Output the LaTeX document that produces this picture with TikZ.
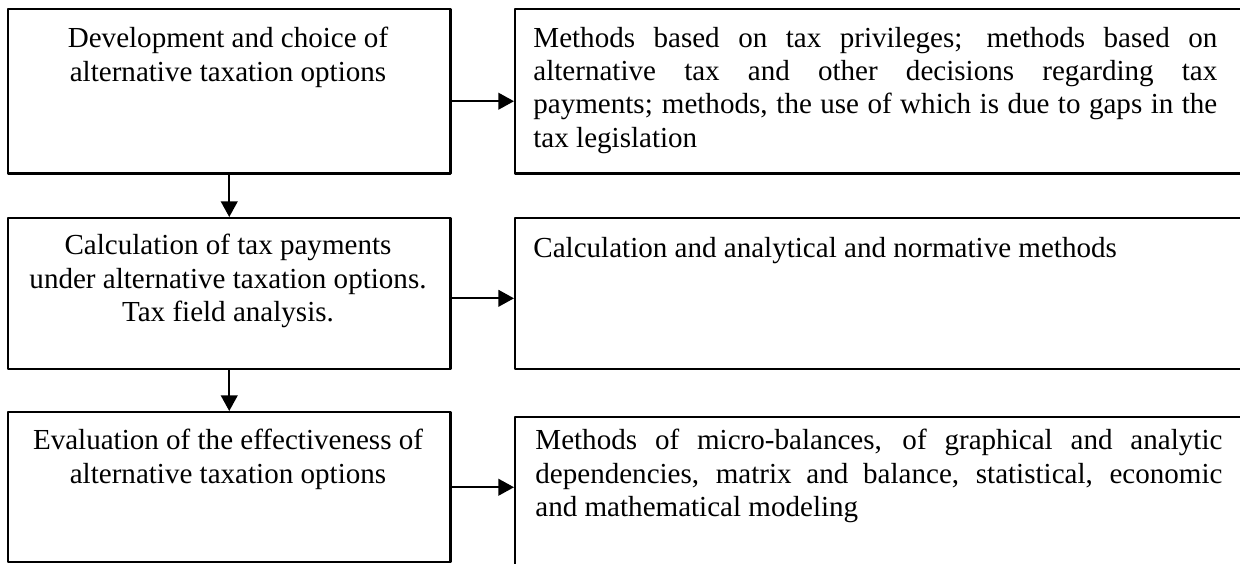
\documentclass[tikz,border=0pt]{standalone}
\usepackage{fontspec}
\setmainfont{Liberation Serif}
\usetikzlibrary{arrows.meta}
\newcommand{\px}{0.4818pt}
\begin{document}
\begin{tikzpicture}[x=\px, y=-\px, line join=round, >={Triangle[length=7.5pt,width=8pt]},
        font=\fontsize{14}{16}\selectfont,
        box/.style={draw, line width=1.2pt, inner sep=0pt, anchor=north west},
        midtxt/.style={anchor=north, align=center, inner sep=0pt},
        sidetxt/.style={anchor=north west, align=justify, text width=329.5pt, inner sep=0pt}]
            \useasboundingbox (0,0) rectangle (1240,563);
            \clip (0,0) rectangle (1240,563);
            \node[box, minimum width=212.96pt, minimum height=79.02pt] (devbox) at (7,8) {};
            \node[box, minimum width=212.96pt, minimum height=72.75pt] (calcbox) at (7,217) {};
            \node[box, minimum width=212.96pt, minimum height=72.27pt] (evalbox) at (7,411) {};
            \node[box, minimum width=352.2pt, minimum height=79.02pt] (privbox) at (514,8) {};
            \node[box, minimum width=352.2pt, minimum height=72.75pt] (normbox) at (514,217) {};
            \node[box, minimum width=352.2pt, minimum height=76.6pt] (modbox) at (514,416) {};
            \node[midtxt] (devtxt) at (228,27) {Development and choice of\\alternative taxation options};
            \node[midtxt] (calctxt) at (228,234) {Calculation of tax payments\\under alternative taxation options.\\Tax field analysis.};
            \node[midtxt] (evaltxt) at (228,429) {Evaluation of the effectiveness of\\alternative taxation options};
            \node[sidetxt] (privtxt) at (533,27) {Methods based on tax privileges; methods based on\linebreak alternative tax and other decisions regarding tax\linebreak payments; methods, the use of which is due to gaps in the\linebreak tax legislation};
            \node[sidetxt] (normtxt) at (533,237) {Calculation and analytical and normative methods};
            \node[sidetxt, text width=331pt] (modtxt) at (535,429) {Methods of micro-balances, of graphical and analytic\linebreak dependencies, matrix and balance, statistical, economic\linebreak and mathematical modeling};
            \draw[->, line width=0.9pt] ([yshift=-4.8pt]devbox.east) -- ([yshift=-4.8pt]devbox.east -| privbox.west);
            \draw[->, line width=0.9pt] ([yshift=-2.2pt]calcbox.east) -- ([yshift=-2.2pt]calcbox.east -| normbox.west);
            \draw[->, line width=0.9pt] (evalbox.east) -- (evalbox.east -| modbox.west);
            \draw[->, line width=0.9pt] (devbox.south) -- (calcbox.north);
            \draw[->, line width=0.9pt] (calcbox.south) -- (evalbox.north);
        \end{tikzpicture}
\end{document}
